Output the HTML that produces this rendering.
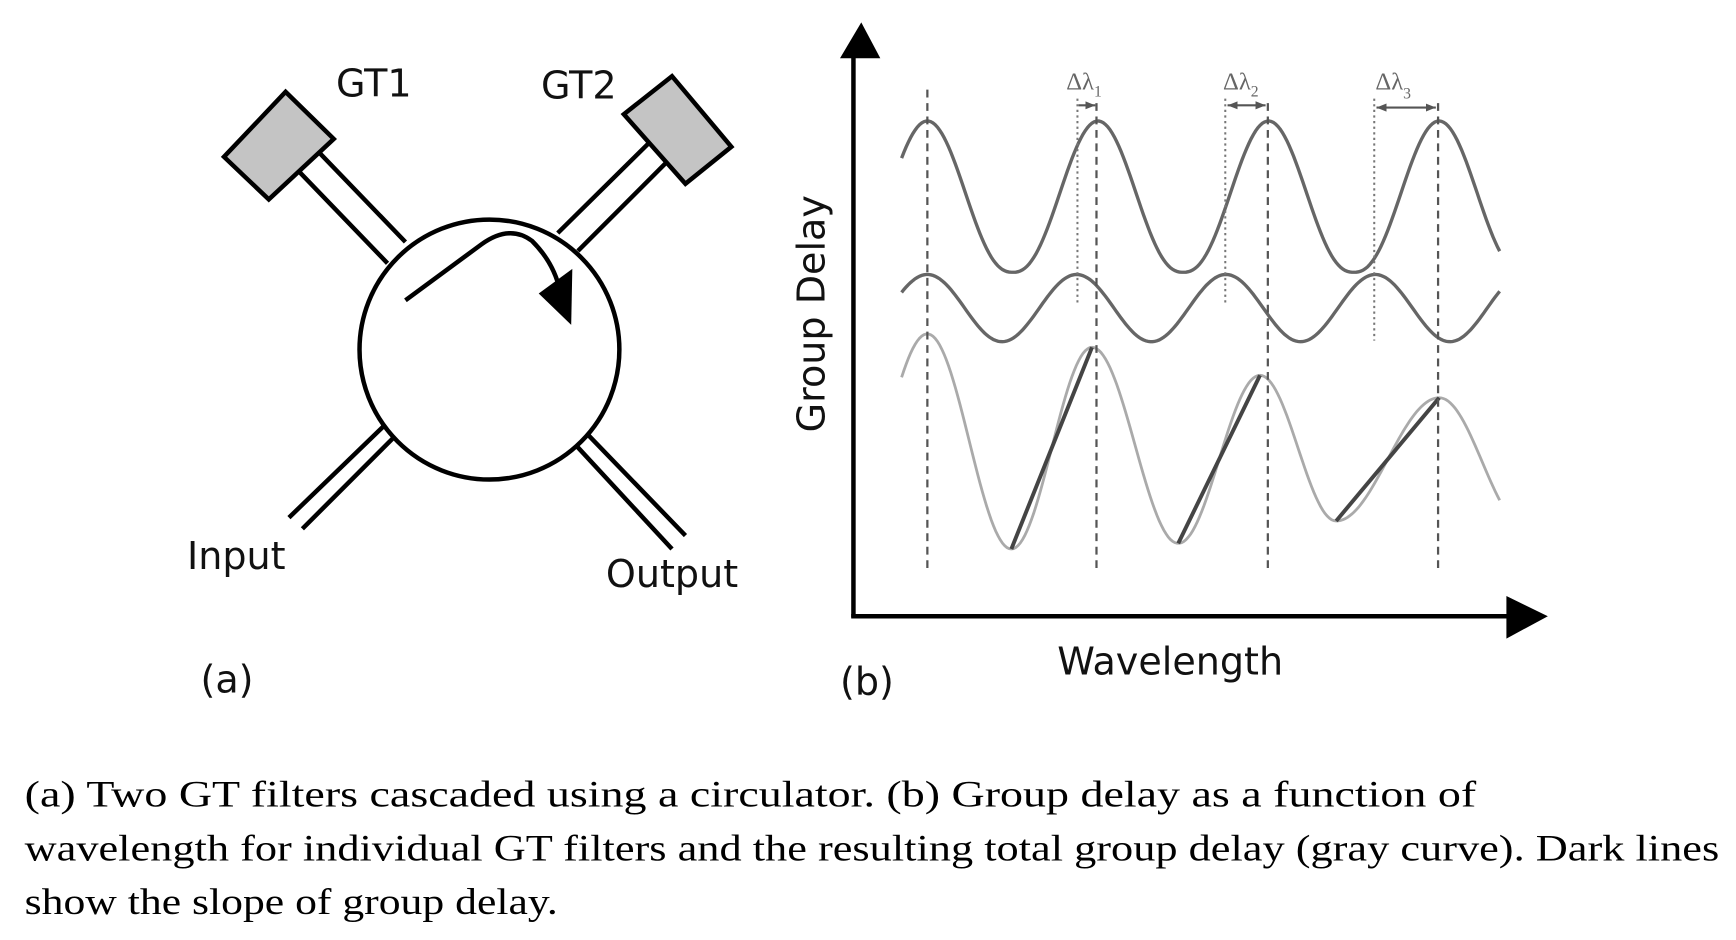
<!DOCTYPE html>
<html><head><meta charset="utf-8"><style>
html,body{margin:0;padding:0;background:#fff;}
svg{display:block;}
</style></head><body>
<svg id="s" width="1736" height="940" viewBox="0 0 1550 839" preserveAspectRatio="none" xmlns="http://www.w3.org/2000/svg">
<defs>
<marker id="ah" viewBox="0 0 10 10" refX="10" refY="5" markerWidth="5" markerHeight="5" orient="auto-start-reverse"><path d="M0,1 L10,5 L0,9 z" fill="#555"/></marker>
</defs>
<g stroke="#000" stroke-width="4" fill="none">
<line x1="264" y1="150" x2="346" y2="235"/>
<line x1="282" y1="133" x2="362" y2="216"/>
<line x1="498" y1="208" x2="579" y2="128"/>
<line x1="516" y1="224" x2="596" y2="144"/>
<line x1="258" y1="462" x2="345" y2="378"/>
<line x1="270" y1="472" x2="352" y2="390"/>
<line x1="522" y1="385" x2="612" y2="478"/>
<line x1="512" y1="395" x2="600" y2="490"/>
</g>
<polygon points="200,140 255,82 298,124 240,178" fill="#c4c4c4" stroke="#000" stroke-width="4"/>
<polygon points="557,102 600,68 653,131 612,164" fill="#c4c4c4" stroke="#000" stroke-width="4"/>
<circle cx="437" cy="312" r="116" fill="#fff" stroke="#000" stroke-width="4"/>
<path d="M362,268 L430,218 Q455,200 475,215 Q495,235 500,260" stroke="#000" stroke-width="4" fill="none"/>
<polygon points="481,262 511,240 510,290" fill="#000"/>
<g font-family="'DejaVu Sans','Liberation Sans',sans-serif" font-size="34" fill="#111">
<text x="300" y="86">GT1</text>
<text x="483" y="88">GT2</text>
<text x="167" y="508">Input</text>
<text x="541" y="524">Output</text>
<text x="179" y="618">(a)</text>
<text x="750" y="620">(b)</text>
<text x="944" y="602">Wavelength</text>
<text transform="translate(736,280) rotate(-90)" text-anchor="middle">Group Delay</text>
</g>
<line x1="762" y1="551" x2="762" y2="40" stroke="#000" stroke-width="4"/>
<polygon points="769,20 750,52 786,52" fill="#000"/>
<line x1="760" y1="550" x2="1355" y2="550" stroke="#000" stroke-width="4"/>
<polygon points="1382,550 1345,532 1345,570" fill="#000"/>
<g id="curves" fill="none"></g>
<g stroke="#555" stroke-width="2" stroke-dasharray="7,5">
<line x1="828" y1="80" x2="828" y2="512"/>
<line x1="979" y1="92" x2="979" y2="512"/>
<line x1="1132" y1="92" x2="1132" y2="512"/>
<line x1="1284" y1="92" x2="1284" y2="512"/>
</g>
<g stroke="#777" stroke-width="1.8" stroke-dasharray="2,3">
<line x1="962" y1="88" x2="962" y2="272"/>
<line x1="1094" y1="88" x2="1094" y2="272"/>
<line x1="1227" y1="88" x2="1227" y2="304"/>
</g>
<g stroke="#555" stroke-width="1.8">
<line x1="963" y1="94" x2="978" y2="94" marker-end="url(#ah)"/>
<line x1="1096" y1="94" x2="1130" y2="94" marker-end="url(#ah)" marker-start="url(#ah)"/>
<line x1="1229" y1="96" x2="1282" y2="96" marker-end="url(#ah)" marker-start="url(#ah)"/>
</g>
<g font-family="'Liberation Serif',serif" font-size="22" fill="#666">
<text x="952" y="80">Δλ<tspan font-size="14" dy="6">1</tspan></text>
<text x="1092" y="80">Δλ<tspan font-size="14" dy="6">2</tspan></text>
<text x="1228" y="80">Δλ<tspan font-size="14" dy="8">3</tspan></text>
</g>
<g font-family="'Liberation Serif',serif" font-size="33" fill="#000">
<text x="22" y="720" textLength="1296" lengthAdjust="spacingAndGlyphs">(a) Two GT filters cascaded using a circulator.  (b) Group delay as a function of</text>
<text x="22" y="768" textLength="1513" lengthAdjust="spacingAndGlyphs">wavelength for individual GT filters and the resulting total group delay (gray curve). Dark lines</text>
<text x="22" y="816" textLength="476" lengthAdjust="spacingAndGlyphs">show the slope of group delay.</text>
</g>
</svg>
<script>
(function(){
var g=document.getElementById('curves');
function add(d,c,w){var p=document.createElementNS('http://www.w3.org/2000/svg','path');p.setAttribute('d',d);p.setAttribute('stroke',c);p.setAttribute('stroke-width',w);p.setAttribute('fill','none');g.appendChild(p);}
var d='',x,y,f;
for(x=805;x<=1340;x+=2){var ph=(x-828)/152.3*2*Math.PI;f=Math.pow((1+Math.cos(ph))/2,1.2);y=243-135*f;d+=(d?'L':'M')+x+','+y.toFixed(1);}
add(d,'#666',3);
d='';
for(x=805;x<=1340;x+=2){var ph=(x-828)/133.3*2*Math.PI;y=275-30*Math.cos(ph);d+=(d?'L':'M')+x+','+y.toFixed(1);}
add(d,'#666',3);
var k=[[755,470],[828,298],[903,490],[975,310],[1052,485],[1125,335],[1193,465],[1285,355],[1362,470]];
d='';
for(x=805;x<=1340;x+=2){for(var i=0;i<k.length-1;i++){if(x>=k[i][0]&&x<=k[i+1][0]){var t=(x-k[i][0])/(k[i+1][0]-k[i][0]);var s=(1-Math.cos(Math.PI*t))/2;y=k[i][1]+(k[i+1][1]-k[i][1])*s;break;}}d+=(d?'L':'M')+x+','+y.toFixed(1);}
add(d,'#aaa',2.5);
add('M903,490 L975,310','#444',3.5);
add('M1052,485 L1125,335','#444',3.5);
add('M1193,465 L1285,355','#444',3.5);
})();
</script>
</body></html>
